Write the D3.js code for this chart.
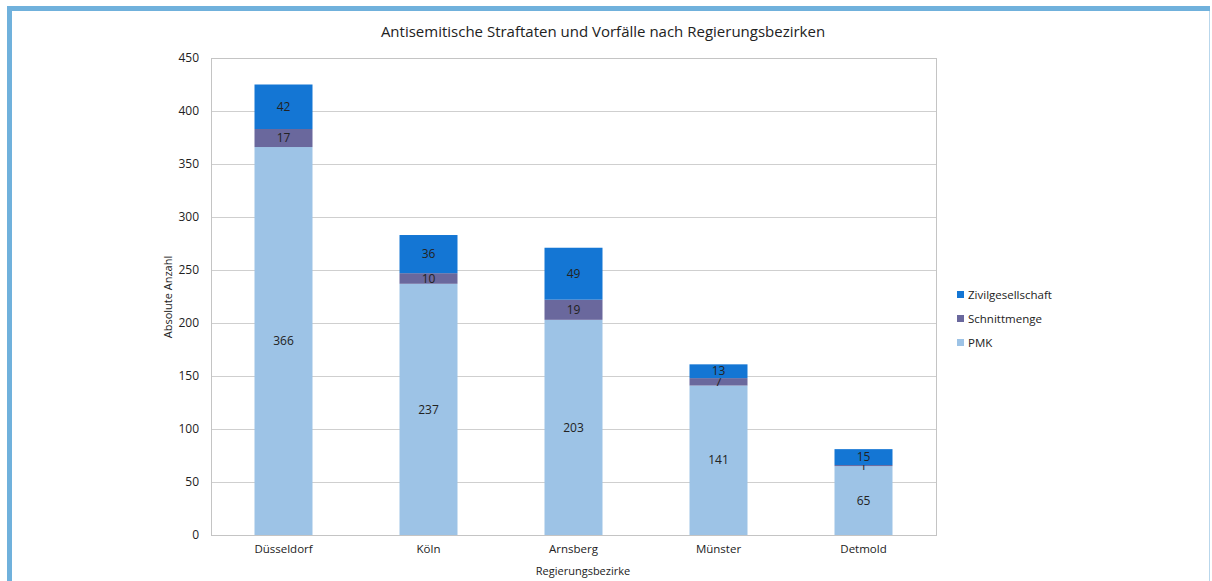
<!DOCTYPE html>
<html>
<head>
<meta charset="utf-8">
<title>Antisemitische Straftaten</title>
<script src="https://d3js.org/d3.v7.min.js"></script>
<style>
body { margin: 0; background: white; }
svg text { font-family: "Open Sans", "Noto Sans", sans-serif; fill: #222; }
</style>
</head>
<body>
<svg id="chart" width="1212" height="581"></svg>
<script>
// data
var bezirke = ["Düsseldorf", "Köln", "Arnsberg", "Münster", "Detmold"];
var pmk = [366, 237, 203, 141, 65];
var schnitt = [17, 10, 19, 7, 1];
var zivil = [42, 36, 49, 13, 15];
var seriesNames = ["PMK", "Schnittmenge", "Zivilgesellschaft"];
var seriesColors = ["#9dc3e6", "#6a689d", "#1476d4"];
var yTicks = [0, 50, 100, 150, 200, 250, 300, 350, 400, 450];

var svg = d3.select("#chart");

// frame around the whole picture
svg.append("rect").attr("x", 7).attr("y", 6).attr("width", 1203).attr("height", 5).attr("fill", "#70b1dc");
svg.append("rect").attr("x", 7).attr("y", 6).attr("width", 5).attr("height", 575).attr("fill", "#70b1dc");
svg.append("rect").attr("x", 1209).attr("y", 11).attr("width", 1).attr("height", 570).attr("fill", "#b9d7ec");

var plotLeft = 211, plotRight = 936, plotTop = 58, plotBottom = 535;

var x = d3.scaleBand().domain(bezirke).range([plotLeft, plotRight]);
var y = d3.scaleLinear().domain([0, 450]).range([plotBottom, plotTop]);
var barW = x.bandwidth() * 0.4;

var rows = bezirke.map(function(b, i) {
  return {bezirk: b, PMK: pmk[i], Schnittmenge: schnitt[i], Zivilgesellschaft: zivil[i]};
});
var stacked = d3.stack().keys(seriesNames)(rows);

// grid lines
svg.append("g")
  .selectAll("line")
  .data(yTicks)
  .enter()
  .append("line")
  .attr("x1", plotLeft).attr("x2", plotRight)
  .attr("y1", function(d) { return Math.round(y(d)) + 0.5; })
  .attr("y2", function(d) { return Math.round(y(d)) + 0.5; })
  .attr("stroke", "#cfcfcf");

svg.append("rect")
  .attr("x", plotLeft + 0.5).attr("y", plotTop + 0.5)
  .attr("width", plotRight - plotLeft).attr("height", plotBottom - plotTop)
  .attr("fill", "none").attr("stroke", "#c4c4c4");

// y axis
var yAxis = d3.axisLeft(y).tickValues(yTicks).tickSize(0).tickPadding(12);
var ga = svg.append("g").attr("transform", "translate(" + plotLeft + ",0)").call(yAxis);
ga.select(".domain").remove();
ga.selectAll("text").style("font-size", "12px").style("font-family", "Open Sans, sans-serif").attr("fill", "#222");

// x axis labels
var xAxis = d3.axisBottom(x).tickSize(0).tickPadding(10);
var gx = svg.append("g").attr("transform", "translate(0," + plotBottom + ")").call(xAxis);
gx.select(".domain").remove();
gx.selectAll("text").style("font-size", "11.5px").style("font-family", "Open Sans, sans-serif").attr("fill", "#222");

// bars
stacked.forEach(function(layer, k) {
  var g = svg.append("g");
  g.selectAll("rect")
    .data(layer)
    .enter()
    .append("rect")
    .attr("x", function(d) { return x(d.data.bezirk) + (x.bandwidth() - barW) / 2; })
    .attr("y", function(d) { return y(d[1]); })
    .attr("width", barW)
    .attr("height", function(d) { return y(d[0]) - y(d[1]); })
    .attr("fill", seriesColors[k]);
  g.selectAll("text")
    .data(layer)
    .enter()
    .append("text")
    .attr("x", function(d) { return x(d.data.bezirk) + x.bandwidth() / 2; })
    .attr("y", function(d) { return (y(d[0]) + y(d[1])) / 2; })
    .attr("dy", "0.35em")
    .attr("text-anchor", "middle")
    .style("font-size", "12px")
    .text(function(d) { return d[1] - d[0]; });
});

// title and axis titles
svg.append("text")
  .attr("x", 603).attr("y", 37)
  .attr("text-anchor", "middle")
  .style("font-size", "15px")
  .text("Antisemitische Straftaten und Vorfälle nach Regierungsbezirken");

svg.append("text")
  .attr("x", 583).attr("y", 575)
  .attr("text-anchor", "middle")
  .style("font-size", "11px")
  .text("Regierungsbezirke");

svg.append("text")
  .attr("transform", "translate(172,297) rotate(-90)")
  .attr("text-anchor", "middle")
  .style("font-size", "11px")
  .text("Absolute Anzahl");

// legend
var legendNames = seriesNames.slice().reverse();
var legendColors = seriesColors.slice().reverse();
var lg = svg.append("g");
lg.selectAll("rect")
  .data(legendNames)
  .enter()
  .append("rect")
  .attr("x", 957)
  .attr("y", function(d, i) { return 291 + i * 24; })
  .attr("width", 7).attr("height", 7)
  .attr("fill", function(d, i) { return legendColors[i]; });
lg.selectAll("text")
  .data(legendNames)
  .enter()
  .append("text")
  .attr("x", 968)
  .attr("y", function(d, i) { return 295 + i * 24; })
  .attr("dy", "0.35em")
  .style("font-size", "11.5px")
  .text(function(d) { return d; });
</script>
</body>
</html>
